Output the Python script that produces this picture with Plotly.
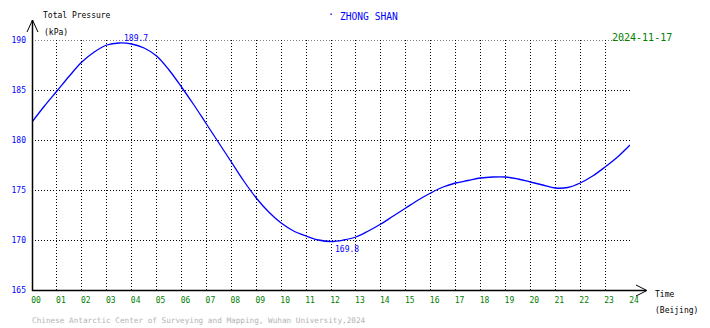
import plotly.graph_objects as go

# ---- data ----
hours = [0, 0.5, 1, 1.5, 2, 2.5, 3, 3.5, 4, 4.5, 5, 5.5, 6, 6.5, 7, 7.5, 8, 8.5, 9, 9.5, 10, 10.5,
         11, 11.5, 12, 12.5, 13, 13.5, 14, 14.5, 15, 15.5, 16, 16.5, 17, 17.5, 18, 18.5, 19, 19.5,
         20, 20.5, 21, 21.5, 22, 22.5, 23, 23.5, 24]
pressure = [181.8, 183.4, 184.9, 186.4, 187.8, 188.8, 189.5, 189.7, 189.6, 189.2, 188.4, 187.0,
            185.3, 183.5, 181.6, 179.7, 177.8, 175.9, 174.2, 172.8, 171.7, 170.9, 170.4, 170.0,
            169.85, 170.0, 170.3, 170.9, 171.6, 172.4, 173.2, 174.0, 174.7, 175.3, 175.7, 175.95,
            176.2, 176.3, 176.3, 176.1, 175.8, 175.5, 175.2, 175.25, 175.7, 176.4, 177.3, 178.3, 179.5]
x_ticks = list(range(0, 25))
x_ticklabels = ["%02d" % h for h in x_ticks]
y_ticks = [165, 170, 175, 180, 185, 190]
y_ticklabels = [str(v) for v in y_ticks]
station = "ZHONG SHAN"
date_label = "2024-11-17"
max_label = "189.7"
min_label = "169.8"
max_hour, max_val = 3.6, 189.7
min_hour, min_val = 12.0, 169.8

W, H = 710, 328
L, R, T, B = 30, 80, 40, 38
PW, PH = W - L - R, H - T - B


def px(x):
    return (x - L) / PW


def py(y):
    return (H - B - y) / PH


FONT = "DejaVu Sans Mono"
BLUE = "#0000ff"
GREEN = "#008000"
DOT = "1px,2px"

fig = go.Figure()
fig.add_trace(go.Scatter(x=hours, y=pressure, mode="lines",
                         line=dict(color=BLUE, width=1.3, shape="spline", smoothing=1.0),
                         hoverinfo="skip", showlegend=False))

fig.update_layout(
    width=W, height=H, margin=dict(l=L, r=R, t=T, b=B),
    paper_bgcolor="white", plot_bgcolor="white",
    showlegend=False,
    xaxis=dict(range=[0, 24], tickvals=x_ticks, ticktext=x_ticklabels,
               showgrid=True, gridcolor="black", griddash=DOT, gridwidth=1,
               zeroline=False, showline=False, ticks="",
               tickfont=dict(family=FONT, size=8, color=GREEN),
               ticklabelshift=4, ticklabelstandoff=4, fixedrange=True),
    yaxis=dict(range=[165, 190], tickvals=y_ticks, ticktext=y_ticklabels,
               showgrid=True, gridcolor="black", griddash=DOT, gridwidth=1,
               zeroline=False, showline=False, ticks="",
               tickfont=dict(family=FONT, size=8, color=BLUE),
               ticklabelstandoff=5, fixedrange=True),
)

line_k = dict(color="black", width=1.5)
thin_k = dict(color="black", width=1)
shapes = [
    dict(type="line", xref="paper", yref="paper", x0=px(30.5), y0=py(291), x1=px(30.5), y1=py(20), line=line_k),
    dict(type="line", xref="paper", yref="paper", x0=px(30), y0=py(290.5), x1=px(646), y1=py(290.5), line=line_k),
    dict(type="line", xref="paper", yref="paper", x0=px(25), y0=py(32), x1=px(30.5), y1=py(20), line=thin_k),
    dict(type="line", xref="paper", yref="paper", x0=px(36), y0=py(32), x1=px(30.5), y1=py(20), line=thin_k),
    dict(type="line", xref="paper", yref="paper", x0=px(636), y0=py(285), x1=px(647), y1=py(290.5), line=thin_k),
    dict(type="line", xref="paper", yref="paper", x0=px(636), y0=py(296), x1=px(647), y1=py(290.5), line=thin_k),
    dict(type="line", xref="paper", yref="y", x0=0, y0=190, x1=1, y1=190,
         line=dict(color="black", width=1, dash=DOT)),
]
fig.update_layout(shapes=shapes)


def ann(text, x, y, color, size, xanchor="left", yanchor="middle"):
    fig.add_annotation(text=text, xref="paper", yref="paper", x=px(x), y=py(y),
                       xanchor=xanchor, yanchor=yanchor, showarrow=False,
                       font=dict(family=FONT, size=size, color=color))


ann("Total Pressure", 39, 16, "black", 8)
ann("(kPa)", 40, 33, "black", 8)
ann("·", 325, 15, BLUE, 10)
ann(station, 337, 17, BLUE, 9.6)
ann(date_label, 610, 37, GREEN, 10)
ann("Time", 653, 294, "black", 8)
ann("(Beijing)", 653, 310, "black", 8)
ann("Chinese Antarctic Center of Surveying and Mapping, Wuhan University,2024", 28, 320, "#b4b4b4", 7.7)

fig.add_annotation(text=max_label, x=max_hour, y=max_val, xref="x", yref="y", xanchor="left", yanchor="bottom",
                   xshift=0, yshift=-2, showarrow=False, font=dict(family=FONT, size=8, color=BLUE))
fig.add_annotation(text=min_label, x=min_hour, y=min_val, xref="x", yref="y", xanchor="left", yanchor="top",
                   xshift=2, yshift=-1, showarrow=False, font=dict(family=FONT, size=8, color=BLUE))

fig.write_html("out.html")
